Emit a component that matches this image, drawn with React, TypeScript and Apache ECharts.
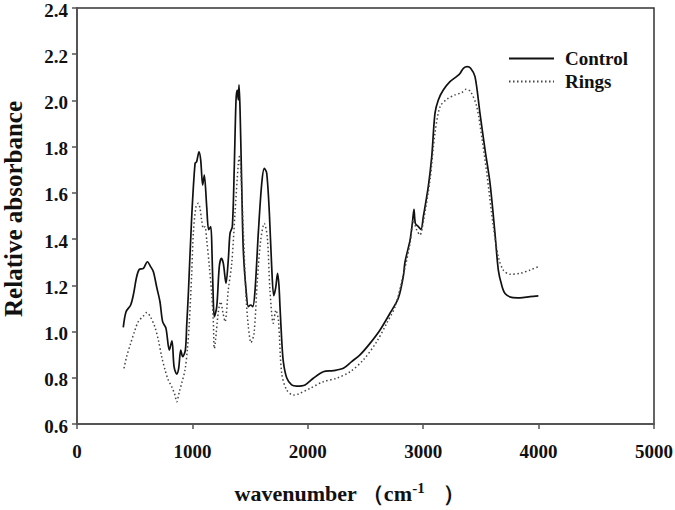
import React, { useEffect, useRef } from "react";
import * as echarts from "echarts";

const xTicks = [0, 1000, 2000, 3000, 4000, 5000];
const yTicks = [0.6, 0.8, 1.0, 1.2, 1.4, 1.6, 1.8, 2.0, 2.2, 2.4];
const seriesNames = ["Control", "Rings"];

const controlWavenumber = [
  401, 425, 465, 488, 517, 540, 575, 610, 638, 662, 690, 719, 742, 771, 800, 823, 841, 864, 881, 899, 916, 939, 951, 965,
  994, 1023, 1037, 1057, 1072, 1089, 1103, 1124, 1141, 1159, 1170, 1181, 1190, 1211, 1233, 1251, 1268, 1291, 1311, 1326,
  1346, 1363, 1378, 1389, 1398, 1404, 1413, 1427, 1441, 1465, 1485, 1505, 1523, 1543, 1571, 1601, 1623, 1644, 1667, 1687,
  1705, 1722, 1738, 1750, 1759, 1774, 1788, 1817, 1860, 1904, 1976, 2048, 2134, 2221, 2308, 2380, 2452, 2539, 2626, 2712,
  2784, 2828, 2842, 2886, 2906, 2920, 2932, 2958, 2981, 3001, 3044, 3074, 3102, 3131, 3174, 3232, 3296, 3319, 3348, 3382,
  3411, 3449, 3492, 3536, 3579, 3622, 3651, 3680, 3709, 3767, 3839, 3926, 3998,
];
const controlAbs = [
  1.018, 1.086, 1.115, 1.158, 1.237, 1.269, 1.273, 1.302, 1.281, 1.259, 1.194, 1.129, 1.043, 1.014, 0.92, 0.96, 0.848,
  0.816, 0.841, 0.92, 0.891, 0.92, 1.03, 1.165, 1.497, 1.728, 1.735, 1.778, 1.742, 1.634, 1.677, 1.54, 1.441, 1.454, 1.338,
  1.136, 1.064, 1.108, 1.281, 1.317, 1.295, 1.209, 1.31, 1.425, 1.454, 1.713, 2.002, 2.045, 2.002, 2.067, 1.959, 1.642,
  1.353, 1.18, 1.108, 1.115, 1.108, 1.18, 1.425, 1.642, 1.706, 1.685, 1.512, 1.281, 1.155, 1.19, 1.252, 1.2, 1.108, 0.963,
  0.87, 0.8, 0.769, 0.764, 0.769, 0.798, 0.826, 0.831, 0.841, 0.87, 0.899, 0.949, 1.007, 1.079, 1.144, 1.24, 1.3, 1.396,
  1.468, 1.529, 1.468, 1.454, 1.442, 1.497, 1.627, 1.757, 1.944, 2.002, 2.045, 2.081, 2.106, 2.117, 2.139, 2.146, 2.139,
  2.103, 1.944, 1.786, 1.642, 1.425, 1.266, 1.201, 1.165, 1.148, 1.146, 1.151, 1.154,
];

const ringsWavenumber = [
  407, 430, 465, 503, 531, 575, 604, 638, 676, 705, 734, 763, 791, 821, 849, 864, 887, 907, 936, 956, 973, 994, 1008, 1031,
  1051, 1066, 1080, 1095, 1109, 1124, 1147, 1167, 1181, 1190, 1225, 1245, 1265, 1283, 1311, 1341, 1369, 1398, 1407, 1419,
  1441, 1465, 1485, 1508, 1534, 1563, 1592, 1623, 1649, 1672, 1701, 1724, 1745, 1774, 1817, 1875, 1918, 2019, 2134, 2250,
  2366, 2481, 2597, 2684, 2756, 2830, 2886, 2914, 2944, 2972, 3001, 3059, 3102, 3146, 3204, 3276, 3334, 3371, 3411, 3464,
  3507, 3551, 3608, 3651, 3694, 3752, 3839, 3926, 3998,
];
const ringsAbs = [
  0.841, 0.891, 0.949, 1.007, 1.043, 1.067, 1.082, 1.062, 1.018, 0.963, 0.891, 0.834, 0.79, 0.761, 0.725, 0.696, 0.74,
  0.776, 0.834, 0.92, 1.036, 1.252, 1.425, 1.54, 1.555, 1.533, 1.483, 1.447, 1.454, 1.396, 1.281, 1.165, 1.05, 0.927, 1.086,
  1.129, 1.08, 1.043, 1.18, 1.295, 1.512, 1.728, 1.757, 1.699, 1.439, 1.151, 1.021, 0.952, 0.992, 1.223, 1.396, 1.468,
  1.41, 1.18, 1.036, 1.093, 1.05, 0.819, 0.747, 0.725, 0.73, 0.754, 0.783, 0.798, 0.826, 0.877, 0.956, 1.036, 1.108, 1.25,
  1.382, 1.483, 1.439, 1.418, 1.475, 1.656, 1.858, 1.973, 2.005, 2.024, 2.034, 2.048, 2.038, 1.973, 1.843, 1.685, 1.454,
  1.324, 1.266, 1.248, 1.252, 1.266, 1.281,
];

const FONT = "'Liberation Serif', 'Times New Roman', serif";

export default function App() {
  const ref = useRef<HTMLDivElement>(null);
  useEffect(() => {
    if (!ref.current) return;
    const chart = echarts.init(ref.current, null, { renderer: "svg" });
    const control = controlWavenumber.map((x, i) => [x, controlAbs[i]]);
    const rings = ringsWavenumber.map((x, i) => [x, ringsAbs[i]]);
    const axisColor = "#555";
    chart.setOption({
      animation: false,
      backgroundColor: "#fff",
      grid: {
        left: 77,
        right: 21,
        top: 8,
        bottom: 86,
        show: true,
        borderColor: "#333",
        borderWidth: 1.5,
        containLabel: false,
        outerBoundsMode: "none",
      },
      legend: {
        orient: "vertical",
        left: 508,
        top: 49,
        padding: 0,
        itemWidth: 45,
        itemHeight: 14,
        itemGap: 4,
        itemStyle: { opacity: 0 },
        textStyle: {
          fontFamily: FONT,
          fontWeight: "bold",
          fontSize: 19,
          color: "#111",
          padding: [0, 0, 0, 6],
        },
        data: seriesNames,
      },
      xAxis: {
        type: "value",
        min: xTicks[0],
        max: xTicks[xTicks.length - 1],
        interval: 1000,
        splitLine: { show: false },
        axisLine: { show: true, lineStyle: { color: axisColor, width: 2 } },
        axisTick: { show: true, length: 5, lineStyle: { color: axisColor, width: 1.5 } },
        axisLabel: {
          fontFamily: FONT,
          fontWeight: "bold",
          fontSize: 19,
          color: "#111",
          margin: 18,
          formatter: (v: number) => String(v),
        },
        name: "{a|wavenumber （cm}{s|-1}{a|）}",
        nameLocation: "middle",
        nameGap: 56,
        nameTextStyle: {
          padding: [0, 32, 0, 0],
          rich: {
            a: { fontFamily: FONT, fontWeight: "bold", fontSize: 22, color: "#111", lineHeight: 26 },
            s: {
              fontFamily: FONT,
              fontWeight: "bold",
              fontSize: 15,
              color: "#111",
              verticalAlign: "top",
              lineHeight: 26,
              padding: [0, 18, 10, 0],
            },
          },
        },
      },
      yAxis: {
        type: "value",
        min: yTicks[0],
        max: yTicks[yTicks.length - 1],
        interval: 0.2,
        splitLine: { show: false },
        axisLine: { show: true, lineStyle: { color: axisColor, width: 2 } },
        axisTick: { show: true, length: 5, lineStyle: { color: axisColor, width: 1.5 } },
        axisLabel: {
          fontFamily: FONT,
          fontWeight: "bold",
          fontSize: 19,
          lineHeight: 4,
          verticalAlign: "top",
          color: "#111",
          margin: 9,
          formatter: (v: number) => v.toFixed(1),
        },
        name: "Relative absorbance",
        nameLocation: "middle",
        nameGap: 51,
        nameTextStyle: { fontFamily: FONT, fontWeight: "bold", fontSize: 25, color: "#111", padding: [0, 0, 0, 14] },
      },
      series: [
        {
          name: seriesNames[0],
          type: "line",
          data: control,
          symbol: "none",
          smooth: 0.3,
          lineStyle: { color: "#111", width: 1.7, type: "solid" },
          itemStyle: { color: "#111" },
        },
        {
          name: seriesNames[1],
          type: "line",
          data: rings,
          symbol: "none",
          smooth: 0.3,
          lineStyle: { color: "#444", width: 1.5, type: [1.5, 2.5] },
          itemStyle: { color: "#444" },
        },
      ],
    });
    return () => chart.dispose();
  }, []);
  return <div ref={ref} style={{ width: 675, height: 510, position: "absolute", left: 0, top: 0 }} />;
}
